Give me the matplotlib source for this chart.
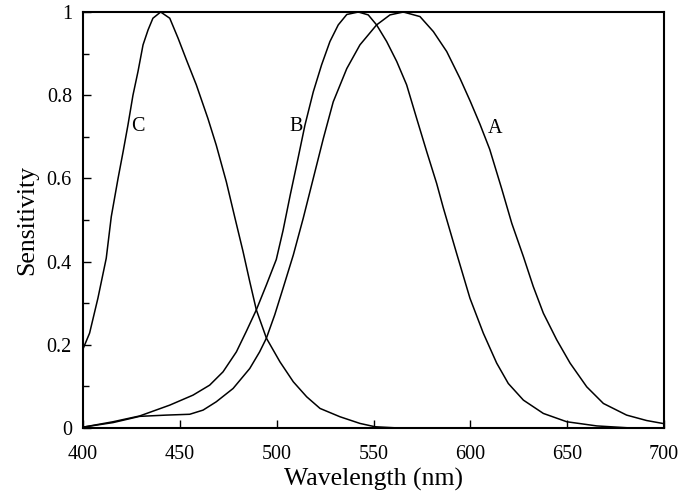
import numpy as np
import matplotlib.pyplot as plt
from matplotlib.ticker import MultipleLocator
from matplotlib.transforms import ScaledTranslation

#data (wavelength nm, sensitivity)
wl_a = [400, 415.5, 429.3, 443, 455.1, 462, 468.8, 477.5, 486.1, 491.2, 494.7, 499,
        503.3, 508.6, 513.7, 518.9, 524.1, 529.2, 536.2, 543, 551.6, 558.5, 565.4,
        574, 580.9, 587.8, 594.7, 600, 605, 610, 616.2, 621.4, 627.4, 632.5,
        637.7, 644.6, 651.5, 660.1, 668.7, 680.7, 691, 699.3]
sens_a = [0.002, 0.013, 0.028, 0.031, 0.033, 0.043, 0.063, 0.095, 0.143, 0.183, 0.216,
          0.272, 0.336, 0.416, 0.504, 0.600, 0.696, 0.784, 0.864, 0.921, 0.969, 0.993,
          1.0, 0.989, 0.953, 0.905, 0.84, 0.785, 0.73, 0.67, 0.575, 0.492, 0.412,
          0.340, 0.276, 0.212, 0.156, 0.099, 0.059, 0.031, 0.018, 0.011]

wl_b = [400, 415.5, 429.3, 444.8, 456.8, 465.4, 472.3, 479.2, 484.3, 489.5, 494.7,
        499.8, 503.3, 507, 510.3, 514.6, 518.9, 523.2, 527.5, 531.8, 536.2, 542.2,
        547.3, 551.6, 556.8, 562, 567.1, 572.3, 577.5, 582.6, 586, 592.9, 599.8,
        606.7, 613.6, 619.6, 627.4, 637.7, 649.8, 665.3, 683]
sens_b = [0.002, 0.015, 0.029, 0.055, 0.079, 0.103, 0.135, 0.183, 0.232, 0.284, 0.344,
          0.405, 0.475, 0.56, 0.632, 0.728, 0.808, 0.873, 0.929, 0.969, 0.994, 1.0,
          0.993, 0.969, 0.929, 0.881, 0.825, 0.744, 0.664, 0.588, 0.53, 0.42, 0.312,
          0.228, 0.156, 0.107, 0.067, 0.035, 0.015, 0.005, 0.0]

wl_c = [400, 400, 403.4, 407.7, 412, 414.6, 418.1, 420.7, 423.2, 425.8, 428.4, 431,
        433.6, 436.1, 440.1, 444.8, 449.1, 453.4, 458.5, 464.5, 468.8, 474, 478.3,
        482.6, 486.1, 489.5, 494.7, 501.7, 508.6, 515.5, 522.4, 532.7, 543, 550.8, 563]
sens_c = [0.0, 0.19, 0.228, 0.312, 0.408, 0.508, 0.600, 0.664, 0.728, 0.800, 0.857,
          0.921, 0.957, 0.985, 1.0, 0.985, 0.937, 0.885, 0.825, 0.744, 0.680, 0.592,
          0.508, 0.425, 0.352, 0.284, 0.216, 0.159, 0.111, 0.075, 0.047, 0.027, 0.011,
          0.003, 0.0]

labels = ['A', 'B', 'C']
label_x = [612.7, 510, 428.4]
label_y = [0.72, 0.724, 0.724]

plt.rcParams['font.family'] = ['Liberation Serif', 'DejaVu Serif']

fig = plt.figure(figsize=(6.78, 4.94), dpi=100)
ax = fig.add_axes([83/678, 1-428/494, (664-83)/678, (428-12)/494])

for wl, s in [(wl_a, sens_a), (wl_b, sens_b), (wl_c, sens_c)]:
    ax.plot(wl, s, color='black', lw=1.1, solid_joinstyle='round')

for lab, lx, ly in zip(labels, label_x, label_y):
    ax.text(lx, ly, lab, fontsize=14.5, ha='center', va='center')

ax.set_xlim(400, 700)
ax.set_ylim(0, 1)
ax.xaxis.set_major_locator(MultipleLocator(50))
ax.yaxis.set_minor_locator(MultipleLocator(0.1))
ax.set_yticks([0, 0.2, 0.4, 0.6, 0.8, 1.0])
ax.set_yticklabels(['0', '0.2', '0.4', '0.6', '0.8', '1'])

ax.tick_params(which='major', direction='in', length=6, width=1, labelsize=14.5)
ax.tick_params(which='minor', direction='in', length=4, width=1)
ax.tick_params(axis='y', pad=8)
ax.tick_params(axis='x', pad=12)
for sp in ax.spines.values():
    sp.set_linewidth(1.5)

#nudge the last x label so it stays inside the figure
last = ax.get_xticklabels()[-1]
last.set_transform(last.get_transform() + ScaledTranslation(-4/72, 0, fig.dpi_scale_trans))

ax.set_xlabel('Wavelength (nm)', fontsize=18.5, labelpad=3)
ax.set_ylabel('Sensitivity', fontsize=18.5, labelpad=6)

fig.savefig('out.png', dpi=100)
